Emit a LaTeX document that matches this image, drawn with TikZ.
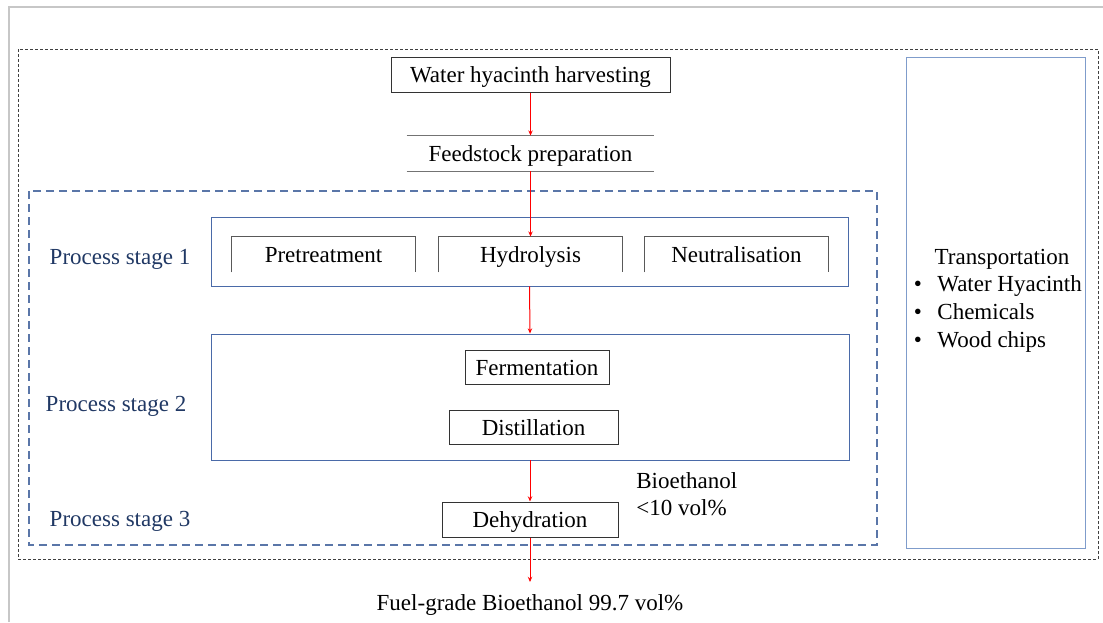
\documentclass[tikz,border=0pt]{standalone}
\usepackage{fontspec}
\setmainfont{Liberation Serif}
\usetikzlibrary{arrows.meta}
\definecolor{stageblue}{HTML}{203864}
\definecolor{boxblue}{HTML}{4A6AA8}
\definecolor{dashblue}{HTML}{5A76A8}
\definecolor{lightblue}{HTML}{7F9CCB}
\begin{document}
\begin{tikzpicture}
  [x=0.5pt,y=-0.5pt,font=\fontsize{11.5}{13.6}\selectfont,
   every node/.style={inner sep=0pt,text height=10pt,text depth=2pt},
   flowbox/.style={draw=black!80,line width=0.5pt},
   openbox/.style={minimum width=91.5pt,minimum height=17.5pt},
   stagebox/.style={draw=boxblue,line width=0.45pt},
   stagelabel/.style={text=stageblue},
   flow/.style={red,line width=0.5pt,-{Stealth[length=2.6pt,width=2.2pt]}}]
  \useasboundingbox (0,0) rectangle (1103,622);

  % frame and group outlines
  \draw [black!22,line width=1pt] (9,622) -- (9,7) -- (1103,7);
  \draw [black!75,line width=0.5pt,dash pattern=on 1.5pt off 1pt] (18,49) rectangle (1098,559);
  \draw [dashblue,line width=0.6pt,dash pattern=on 4pt off 2.5pt] (29,191) rectangle (877,545);

  % main flow
  \node [flowbox,minimum width=139.5pt,minimum height=17.5pt] (harvest) at (530.5,74.5) {Water hyacinth harvesting};
  \node [minimum width=123.5pt,minimum height=17.5pt] (feed) at (530.5,153.5) {Feedstock preparation};
  \draw [black!55,line width=0.6pt] (feed.north west) -- (feed.north east)
                                     (feed.south west) -- (feed.south east);

  \node [stagebox,minimum width=318.5pt,minimum height=34.5pt] (stageone) at (529.5,251.5) {};
  \node [openbox] (pre)   at (323.5,254.5) {Pretreatment};
  \node [openbox] (hydro) at (530.5,254.5) {Hydrolysis};
  \node [openbox] (neut)  at (736.5,254.5) {Neutralisation};
  \foreach \n in {pre,hydro,neut}
    \draw [black!65,line width=0.5pt] (\n.south west) -- (\n.north west) -- (\n.north east) -- (\n.south east);

  \node [stagebox,minimum width=319pt,minimum height=63pt] (stagetwo) at (530,397) {};
  \node [flowbox,minimum width=72pt,minimum height=17pt] (ferm) at (537,367) {Fermentation};
  \node [flowbox,minimum width=84.5pt,minimum height=17pt] (dist) at (533.5,427) {Distillation};

  \node [flowbox,minimum width=88pt,minimum height=17.5pt] (dehyd) at (530,519.5) {Dehydration};
  \node [align=left,anchor=west,text height=,text depth=] (bio) at (636,494) {Bioethanol\\<10 vol\%};
  \coordinate (fuelin) at (530,582);
  \node (fuel) at (530,602) {Fuel-grade Bioethanol 99.7 vol\%};

  \foreach \from/\to in {harvest.south/feed.north,feed.south/hydro.north,
                         stageone.south/stagetwo.north,stagetwo.south/dehyd.north,dehyd.south/fuelin}
    \draw [flow] (\from) -- (\to);

  % stage labels
  \node [stagelabel] (labone)   at (120,256) {Process stage 1};
  \node [stagelabel] (labtwo)   at (116,403) {Process stage 2};
  \node [stagelabel] (labthree) at (120,518) {Process stage 3};

  % transportation
  \node [draw=lightblue,line width=0.5pt,minimum width=89.5pt,minimum height=245.5pt] (transport) at (995.5,302.5) {};
  \node (trtitle) at (1002,256) {Transportation};
  \foreach \item/\y in {Water Hyacinth/283,Chemicals/311,Wood chips/339} {
    \node (dot\y) at (918,\y) {\textbullet};
    \node [anchor=west] (item\y) at (937,\y) {\item};
  }
\end{tikzpicture}
\end{document}
